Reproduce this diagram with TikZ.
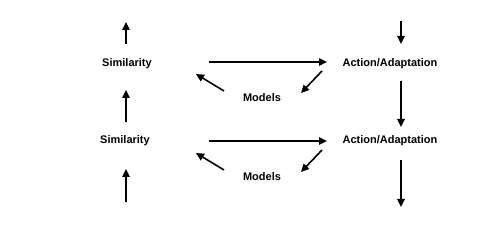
\documentclass[tikz,border=0pt]{standalone}
\usepackage{fontspec}
\setmainfont{Liberation Sans}
\usetikzlibrary{arrows.meta}
\begin{document}
\begin{tikzpicture}[x=1pt,y=-1pt,
  lbl/.style={font=\fontsize{11}{13}\selectfont\bfseries, inner sep=0pt, text height=9pt, text depth=0pt},
  arr/.style={line width=1.6pt, -{Triangle[length=8pt,width=7.5pt]}}]
\useasboundingbox (0,0) rectangle (495,248);
\node[lbl] (sim1) at (127,62) {Similarity};
\node[lbl] (sim2) at (125,139) {Similarity};
\node[lbl] (act1) at (390,62) {Action/Adaptation};
\node[lbl] (act2) at (390,139) {Action/Adaptation};
\node[lbl] (mod1) at (262,97) {Models};
\node[lbl] (mod2) at (262,176) {Models};
\coordinate (simtop) at (126,22);
\coordinate (simbot) at (126,202);
\coordinate (acttop) at (401,21);
\coordinate (actbot) at (401,207);
% left column
\draw[arr] ([xshift=-1]sim1.center) ++(0,-18) -- (simtop);
\draw[arr, shorten <=17, shorten >=28] ([xshift=1]sim2.center) -- ([xshift=-1]sim1.center);
\draw[arr, shorten >=30] (simbot) -- ([xshift=1]sim2.center);
% right column
\draw[arr, shorten >=18] (acttop) -- ([xshift=11]act1.center);
\draw[arr, shorten <=19, shorten >=12] ([xshift=11]act1.center) -- ([xshift=11]act2.center);
\draw[arr, shorten <=21] ([xshift=11]act2.center) -- (actbot);
% horizontals
\draw[arr, shorten <=82, shorten >=63] (sim1.center) -- (act1.center);
\draw[arr, shorten <=84, shorten >=63] ([yshift=-2]sim2.center) -- ([yshift=-2]act2.center);
% diagonals
\draw[arr] ([shift={(-38,-6)}]mod1.center) -- ([shift={(-66,-23)}]mod1.center);
\draw[arr] ([shift={(-38,-6)}]mod2.center) -- ([shift={(-66,-23)}]mod2.center);
\draw[arr] ([shift={(-68,9)}]act1.center) -- ([shift={(39,-4)}]mod1.center);
\draw[arr] ([shift={(-68,11)}]act2.center) -- ([shift={(39,-4)}]mod2.center);
\end{tikzpicture}
\end{document}
